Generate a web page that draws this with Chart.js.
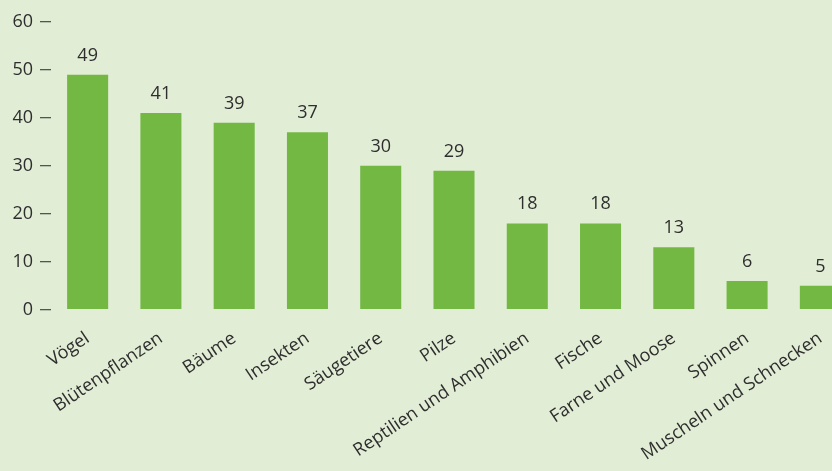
<!DOCTYPE html>
<html>
<head>
<meta charset="utf-8">
<script src="https://cdn.jsdelivr.net/npm/chart.js@4"></script>
<style>
html,body{margin:0;padding:0;background:#e2edd6;overflow:hidden;width:832px;height:471px;}
#wrap{position:absolute;left:0;top:0;width:860px;height:471px;}
</style>
</head>
<body>
<div id="wrap"><canvas id="c" width="860" height="471"></canvas></div>
<script>
const categories = ["Vögel","Blütenpflanzen","Bäume","Insekten","Säugetiere","Pilze","Reptilien und Amphibien","Fische","Farne und Moose","Spinnen","Muscheln und Schnecken"];
const values = [49,41,39,37,30,29,18,18,13,6,5];
const yTicks = [0,10,20,30,40,50,60];

const FONT = "'Open Sans', sans-serif";
const TEXT = "#2e2e2e";

const valueLabels = {
  id: 'valueLabels',
  afterDatasetsDraw(chart) {
    const ctx = chart.ctx;
    const meta = chart.getDatasetMeta(0);
    ctx.save();
    ctx.font = "18px " + FONT;
    ctx.fillStyle = TEXT;
    ctx.textAlign = 'center';
    ctx.textBaseline = 'alphabetic';
    meta.data.forEach((bar, i) => {
      ctx.fillText(String(values[i]), bar.x, bar.y - 14);
    });
    ctx.restore();
  }
};

new Chart(document.getElementById('c'), {
  type: 'bar',
  data: {
    labels: categories,
    datasets: [{
      data: values,
      backgroundColor: '#72b843',
      borderWidth: 0,
      barPercentage: 0.56,
      categoryPercentage: 1.0
    }]
  },
  options: {
    responsive: false,
    animation: false,
    devicePixelRatio: 1,
    layout: { padding: { top: 22, right: 3, left: 0, bottom: -12 } },
    plugins: { legend: { display: false }, tooltip: { enabled: false } },
    scales: {
      x: {
        grid: { display: false, drawTicks: false },
        border: { display: false },
        ticks: {
          color: TEXT,
          font: { family: FONT, size: 18 },
          minRotation: 34,
          maxRotation: 34,
          padding: 18,
          autoSkip: false
        }
      },
      y: {
        min: 0,
        max: 60,
        afterBuildTicks(scale) { scale.ticks = yTicks.map(v => ({ value: v })); },
        afterFit(scale) { scale.width = 51; },
        grid: { display: true, drawOnChartArea: false, drawTicks: true, tickLength: 11, color: '#555555', lineWidth: 1.3 },
        border: { display: false },
        ticks: {
          color: TEXT,
          font: { family: FONT, size: 18 },
          padding: 7
        }
      }
    }
  },
  plugins: [valueLabels]
});
</script>
</body>
</html>
